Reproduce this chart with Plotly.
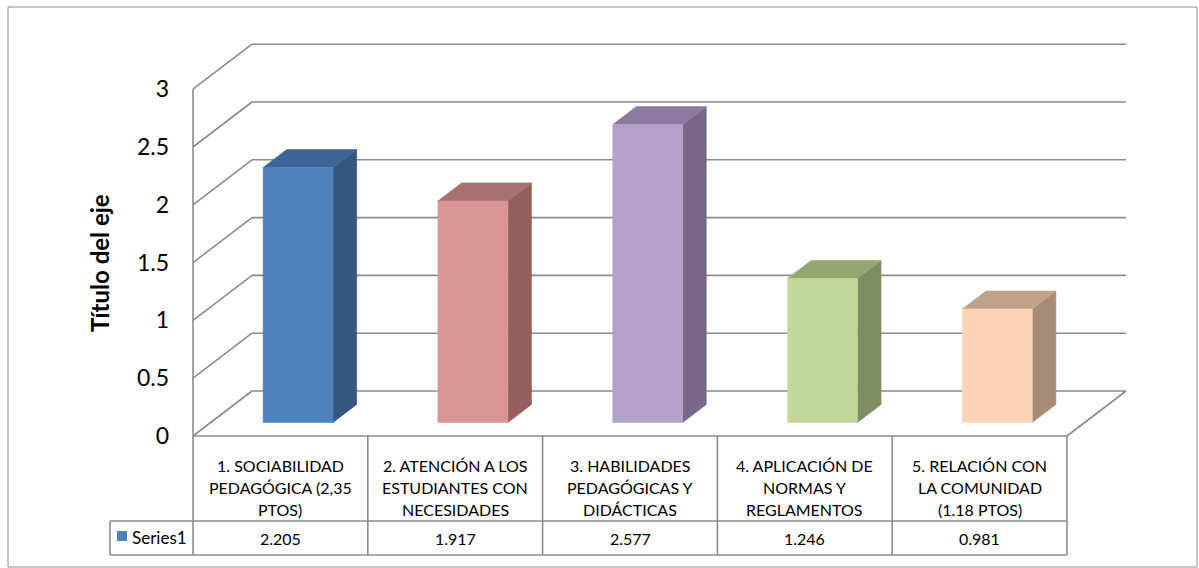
import plotly.graph_objects as go

# ---- data -------------------------------------------------------------
categories = [
    "1. SOCIABILIDAD\nPEDAGÓGICA (2,35\nPTOS)",
    "2. ATENCIÓN A LOS\nESTUDIANTES CON\nNECESIDADES",
    "3. HABILIDADES\nPEDAGÓGICAS Y\nDIDÁCTICAS",
    "4. APLICACIÓN DE\nNORMAS Y\nREGLAMENTOS",
    "5. RELACIÓN CON\nLA COMUNIDAD\n(1.18 PTOS)",
]
values = [2.205, 1.917, 2.577, 1.246, 0.981]
series_name = "Series1"
tick_vals = [0, 0.5, 1, 1.5, 2, 2.5, 3]
tick_text = ["0", "0.5", "1", "1.5", "2", "2.5", "3"]
axis_title = "Título del eje"

# face colours per bar: front, side, top
front_colors = ["#4F81BD", "#D99694", "#B3A2C7", "#C3D69B", "#FCD5B4"]
side_colors = ["#35577F", "#955F5D", "#766886", "#7F8D62", "#A68B76"]
top_colors = ["#3C6494", "#A6716F", "#8B7BA0", "#95A673", "#C0A189"]

# ---- layout geometry (pixels) -----------------------------------------
W, H = 1199, 568
PX_X0 = 193.0        # x of category axis origin
PX_PER_CAT = 174.8
PX_Y0 = 436.0        # y of value 0 on the front plane
PX_PER_UNIT = 115.6
DEPTH_PX_X, DEPTH_PX_Y = 59.0, 45.0   # oblique offset of the back wall

DX = DEPTH_PX_X / PX_PER_CAT          # depth offset in data units
DY = DEPTH_PX_Y / PX_PER_UNIT
Y_MAX = 3.0
N = len(categories)

def dx(px):
    return (px - PX_X0) / PX_PER_CAT

def dy(py):
    return (PX_Y0 - py) / PX_PER_UNIT

GRID = "#8C8C8C"
fig = go.Figure()

def line(xs, ys, color=GRID, width=1.6):
    fig.add_trace(go.Scatter(x=xs, y=ys, mode="lines", hoverinfo="skip",
                             line=dict(color=color, width=width), showlegend=False))

# back wall gridlines and left wall diagonals
for v in tick_vals:
    line([DX, N + DX], [v + DY, v + DY])
    line([0, DX], [v, v + DY])
# floor outline and value axis
line([N, N + DX], [0, DY])
line([0, 0], [0, Y_MAX])

# ---- 3-D columns ------------------------------------------------------
HALF_W = 0.2
Z0, Z1 = 0.3, 0.7

def poly(xs, ys, color):
    fig.add_trace(go.Scatter(x=xs + [xs[0]], y=ys + [ys[0]], mode="lines",
                             fill="toself", fillcolor=color,
                             line=dict(color=color, width=0.6),
                             hoverinfo="skip", showlegend=False))

for i, v in enumerate(values):
    c = i + 0.5
    xl, xr = c - HALF_W, c + HALF_W
    fx, fy = Z0 * DX, Z0 * DY
    bx, by = Z1 * DX, Z1 * DY
    # side face
    poly([xr + fx, xr + bx, xr + bx, xr + fx],
         [fy, by, v + by, v + fy], side_colors[i])
    # top face
    poly([xl + fx, xr + fx, xr + bx, xl + bx],
         [v + fy, v + fy, v + by, v + by], top_colors[i])
    # front face
    poly([xl + fx, xr + fx, xr + fx, xl + fx],
         [fy, fy, v + fy, v + fy], front_colors[i])

# ---- data table -------------------------------------------------------
ROW1_BOTTOM = dy(521)
ROW2_BOTTOM = dy(555)
KEY_LEFT = dx(110)
TABLE_LINE = "#8C8C8C"

line([0, N], [0, 0], TABLE_LINE, 1.6)
line([KEY_LEFT, N], [ROW1_BOTTOM, ROW1_BOTTOM], TABLE_LINE, 1.6)
line([KEY_LEFT, N], [ROW2_BOTTOM, ROW2_BOTTOM], TABLE_LINE, 1.6)
line([KEY_LEFT, KEY_LEFT], [ROW1_BOTTOM, ROW2_BOTTOM], TABLE_LINE, 1.6)
for k in range(N + 1):
    line([k, k], [0, ROW2_BOTTOM], TABLE_LINE, 1.6)

FONT = "Lato"
TABLE_SIZE = 16
annotations = []
LINE_STEP = 22 / PX_PER_UNIT
first_line_y = dy(465)
for i, lab in enumerate(categories):
    for j, txt in enumerate(lab.split("\n")):
        annotations.append(dict(x=i + 0.5, y=first_line_y - j * LINE_STEP, text=txt,
                                showarrow=False, xanchor="center", yanchor="middle",
                                font=dict(family=FONT, size=TABLE_SIZE, color="black")))
    annotations.append(dict(x=i + 0.5, y=dy(538), text=f"{values[i]:.3f}",
                            showarrow=False, xanchor="center", yanchor="middle",
                            font=dict(family=FONT, size=TABLE_SIZE, color="black")))

# series key in the table
fig.add_trace(go.Scatter(x=[dx(122)], y=[dy(536)], mode="markers",
                         marker=dict(symbol="square", size=10, color=front_colors[0]),
                         hoverinfo="skip", showlegend=False))
annotations.append(dict(x=dx(130), y=dy(537), text=series_name, showarrow=False,
                        xanchor="left", yanchor="middle",
                        font=dict(family=FONT, size=TABLE_SIZE + 1, color="black")))

# value axis title
annotations.append(dict(x=dx(99), y=dy(263), text=f"<b>{axis_title}</b>",
                        textangle=-90, showarrow=False, xanchor="center", yanchor="middle",
                        font=dict(family=FONT, size=24, color="black")))

# chart border
shapes = [dict(type="rect", xref="paper", yref="paper",
               x0=8 / W, x1=1197 / W, y0=1 - 567 / H, y1=1 - 7 / H,
               line=dict(color="#8E8E8E", width=1), fillcolor="rgba(0,0,0,0)")]

fig.update_layout(
    width=W, height=H, margin=dict(l=0, r=0, t=0, b=0),
    paper_bgcolor="white", plot_bgcolor="white",
    xaxis=dict(range=[dx(0), dx(W)], visible=False, fixedrange=True),
    yaxis=dict(range=[dy(H), dy(0)], showgrid=False, zeroline=False, showline=False,
               tickvals=tick_vals, ticktext=tick_text, ticks="",
               anchor="free", position=PX_X0 / W, ticklabelstandoff=24,
               tickfont=dict(family=FONT, size=23, color="black"),
               automargin=False, fixedrange=True),
    annotations=annotations, shapes=shapes, showlegend=False,
)

fig.write_html("out.html")
